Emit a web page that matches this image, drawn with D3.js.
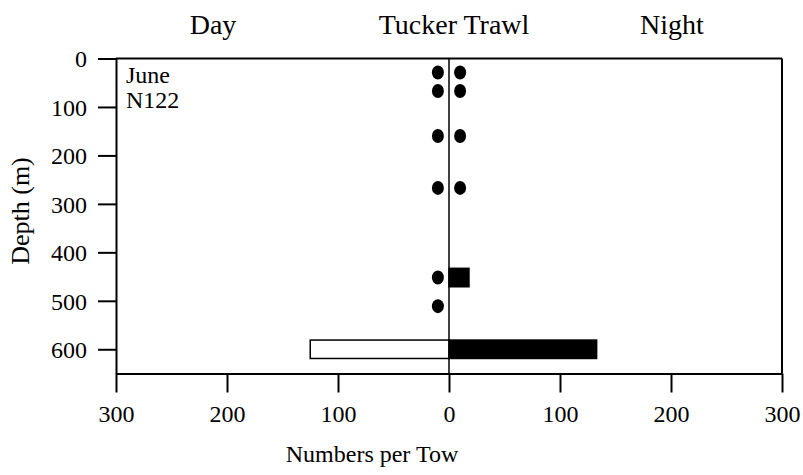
<!DOCTYPE html>
<html>
<head>
<meta charset="utf-8">
<script src="https://cdn.jsdelivr.net/npm/d3@7"></script>
<style>
  body { margin: 0; background: #fff; }
  svg { font-family: "Liberation Serif", "Times New Roman", serif; }
  .axis path, .axis line { stroke: #000; stroke-width: 2; }
</style>
</head>
<body>
<svg id="chart" width="803" height="475"></svg>
<script>
// depth (m) of each tow, and catch; 0 = sampled, nothing caught (dot)
const dayDepths = [29, 67, 160, 267, 452, 511, 600];
const dayCounts = [0, 0, 0, 0, 0, 0, 125];
const nightDepths = [29, 67, 160, 267, 452, 600];
const nightCounts = [0, 0, 0, 0, 18, 133];

const xTicks = [-300, -200, -100, 0, 100, 200, 300];
const yTicks = [0, 100, 200, 300, 400, 500, 600];

const svg = d3.select("#chart");
const width = 803, height = 475;

const x = d3.scaleLinear().domain([-300, 300]).range([116, 782]);
const y = d3.scaleLinear().domain([0, 650]).range([58.5, 373.5]);

const dotOffset = 10;   // dots sit this many units either side of zero
const halfBand = 19;    // bar half thickness, in metres

const day = dayDepths.map((d, i) => ({depth: d, n: dayCounts[i], side: -1}));
const night = nightDepths.map((d, i) => ({depth: d, n: nightCounts[i], side: 1}));

// frame: top and right sides
svg.append("line")
    .attr("x1", x(-300)).attr("x2", x(300))
    .attr("y1", y(0)).attr("y2", y(0))
    .attr("stroke", "#000").attr("stroke-width", 2);
svg.append("line")
    .attr("x1", x(300)).attr("x2", x(300))
    .attr("y1", y(0)).attr("y2", y(650))
    .attr("stroke", "#000").attr("stroke-width", 2);

// centre line
svg.append("line")
    .attr("x1", x(0)).attr("x2", x(0))
    .attr("y1", y(0)).attr("y2", y(650))
    .attr("stroke", "#000").attr("stroke-width", 1.5);

function serifTicks(g) {
    g.attr("font-family", null).attr("font-size", null);
    g.selectAll("text")
        .attr("font-family", "Liberation Serif, serif")
        .attr("font-size", 24)
        .attr("fill", "#000");
}

svg.append("g")
    .attr("class", "axis")
    .attr("transform", `translate(${x(-300)},0)`)
    .call(d3.axisLeft(y).tickValues(yTicks).tickSize(18).tickSizeOuter(0).tickPadding(11))
    .call(serifTicks)
    .call(g => g.selectAll("text").attr("dy", "0.35em"));

svg.append("g")
    .attr("class", "axis")
    .attr("transform", `translate(0,${y(650)})`)
    .call(d3.axisBottom(x).tickValues(xTicks).tickFormat(d => Math.abs(d))
        .tickSize(19).tickSizeOuter(0).tickPadding(12))
    .call(serifTicks);

// bars
const bars = day.concat(night).filter(d => d.n > 0);
svg.append("g")
  .selectAll("rect")
  .data(bars)
  .enter().append("rect")
    .attr("x", d => d.side < 0 ? x(-d.n) : x(0))
    .attr("width", d => Math.abs(x(d.n) - x(0)))
    .attr("y", d => y(d.depth - halfBand))
    .attr("height", d => y(d.depth + halfBand) - y(d.depth - halfBand))
    .attr("fill", d => d.side < 0 ? "#fff" : "#000")
    .attr("stroke", "#000")
    .attr("stroke-width", 1.5);

// zero-catch dots
const dots = day.concat(night).filter(d => d.n === 0);
svg.append("g")
  .selectAll("ellipse")
  .data(dots)
  .enter().append("ellipse")
    .attr("cx", d => x(d.side * dotOffset))
    .attr("cy", d => y(d.depth))
    .attr("rx", 6)
    .attr("ry", 7)
    .attr("fill", "#000");

// titles
const titles = [["Day", 213], ["Tucker Trawl", 454], ["Night", 672]];
svg.append("g")
  .selectAll("text")
  .data(titles)
  .enter().append("text")
    .attr("x", d => d[1])
    .attr("y", 34)
    .attr("text-anchor", "middle")
    .attr("font-size", 28)
    .text(d => d[0]);

svg.append("text")
    .attr("x", 126).attr("y", 83)
    .attr("font-size", 24)
    .text("June");
svg.append("text")
    .attr("x", 126).attr("y", 108)
    .attr("font-size", 24)
    .text("N122");

svg.append("text")
    .attr("x", 372).attr("y", 462)
    .attr("text-anchor", "middle")
    .attr("font-size", 24)
    .text("Numbers per Tow");

svg.append("text")
    .attr("transform", "translate(29,211) rotate(-90)")
    .attr("text-anchor", "middle")
    .attr("font-size", 26)
    .text("Depth (m)");
</script>
</body>
</html>
